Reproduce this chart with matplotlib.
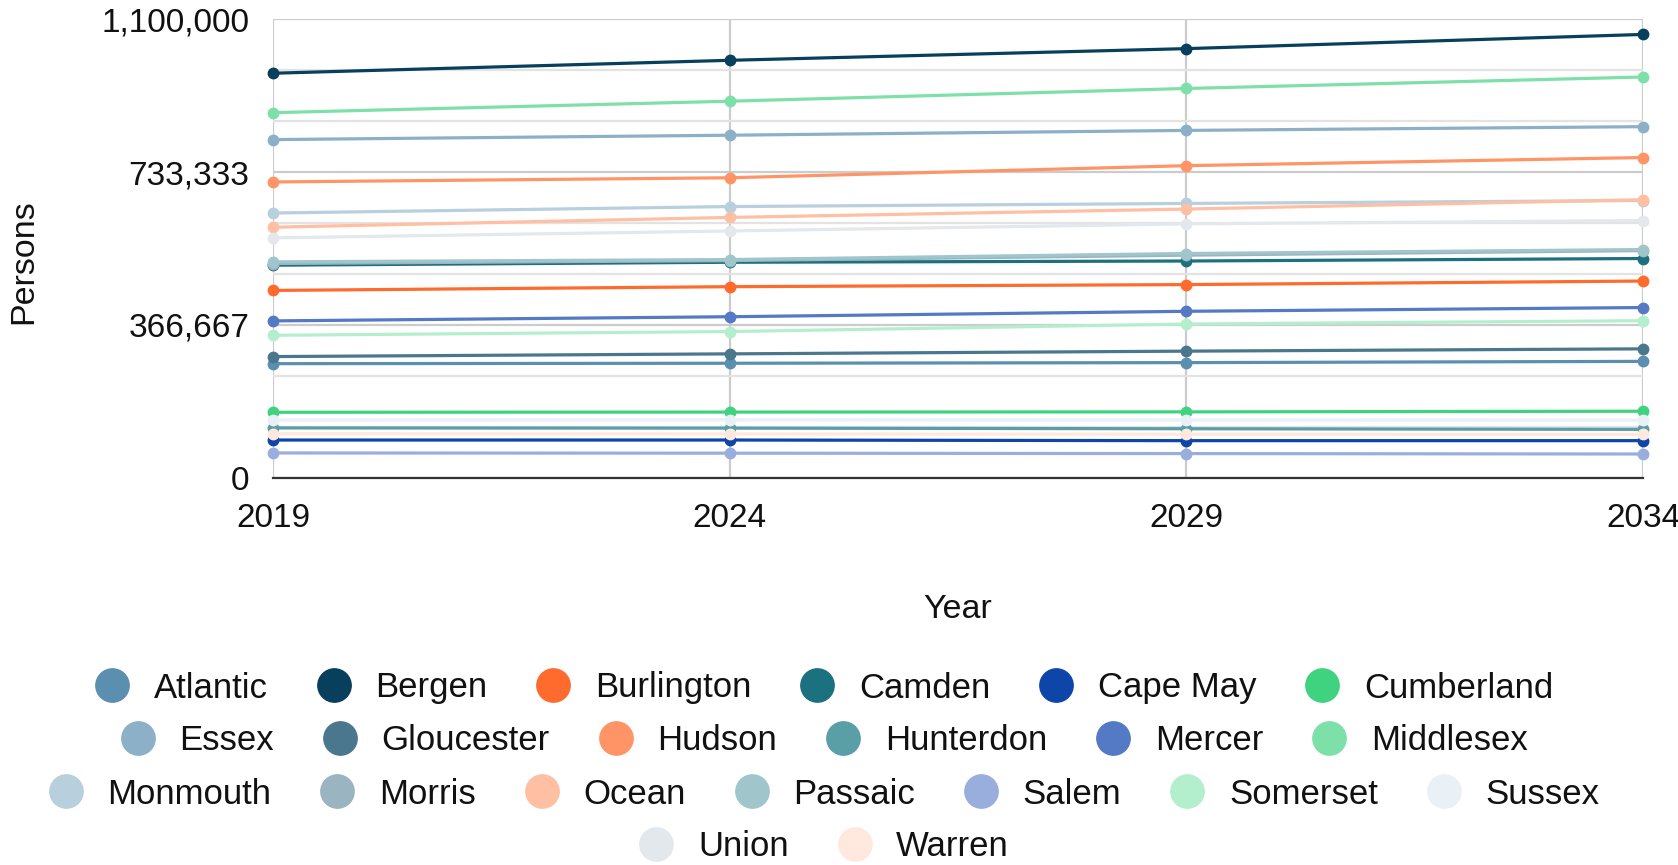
import matplotlib
matplotlib.use("Agg")
import matplotlib.pyplot as plt
from matplotlib.lines import Line2D

plt.rcParams["font.family"] = ["Liberation Sans", "DejaVu Sans"]

years = [2019, 2024, 2029, 2034]

# county populations
atlantic = [274000, 275000, 276500, 279500]
bergen = [970000, 1001000, 1029000, 1063000]
burlington = [449500, 458500, 463500, 472000]
camden = [510000, 517000, 520000, 526000]
cape_may = [91000, 91000, 89500, 89500]
cumberland = [157500, 158000, 158500, 160000]
essex = [811000, 821500, 833000, 842000]
gloucester = [291000, 297500, 304000, 309500]
hudson = [709500, 719500, 748500, 768000]
hunterdon = [120000, 119500, 118000, 116500]
mercer = [376500, 386500, 399500, 408500]
middlesex = [875500, 903000, 933500, 961000]
monmouth = [635000, 650500, 658000, 665000]
morris = [514000, 521000, 534000, 545000]
ocean = [601000, 624500, 644500, 667000]
passaic = [518000, 523500, 538000, 547500]
salem = [60000, 59500, 58500, 57500]
somerset = [342000, 351000, 369000, 377000]
sussex = [139000, 139500, 139000, 138500]
union = [575500, 592000, 609000, 617000]
warren = [106000, 105500, 105000, 104500]

names = ["Atlantic", "Bergen", "Burlington", "Camden", "Cape May", "Cumberland",
         "Essex", "Gloucester", "Hudson", "Hunterdon", "Mercer", "Middlesex",
         "Monmouth", "Morris", "Ocean", "Passaic", "Salem", "Somerset", "Sussex",
         "Union", "Warren"]
colors = ["#5a8fb0", "#073f5c", "#ff6b2c", "#1b717f", "#0d45a8", "#3fd37f",
          "#8cb0c8", "#4a778d", "#ff9566", "#5a9ea6", "#5479c5", "#7ee0a9",
          "#b8cfdd", "#9ab4c1", "#ffbfa3", "#a0c6cb", "#99aedd", "#b4efcd", "#e9f0f6",
          "#e3e8ec", "#ffe9de"]
values = [atlantic, bergen, burlington, camden, cape_may, cumberland,
          essex, gloucester, hudson, hunterdon, mercer, middlesex,
          monmouth, morris, ocean, passaic, salem, somerset, sussex,
          union, warren]
legend_rows = [6, 6, 7, 2]

ymax = 1100000
major = [0, 366667, 733333, 1100000]
major_labels = ["0", "366,667", "733,333", "1,100,000"]

W, H = 1678, 865
fig = plt.figure(figsize=(W / 100, H / 100), dpi=100)
ax = fig.add_axes([273 / W, 1 - 478 / H, (1643 - 273) / W, (478 - 19) / H])

for name, vals, c in zip(names, values, colors):
    ax.plot(years, vals, color=c, lw=2.3, marker="o", ms=7.5, label=name,
            clip_on=False, zorder=3)

ax.set_xlim(2019, 2034)
ax.set_ylim(0, ymax)
ax.set_xticks(years)
ax.set_xticklabels([str(y) for y in years])
ax.set_yticks(major)
ax.set_yticklabels(major_labels)
ax.set_yticks([ymax * i / 9 for i in range(1, 9) if i % 3], minor=True)
ax.grid(True, which="major", axis="both", color="#cccccc", lw=1.6, zorder=0)
ax.grid(True, which="minor", axis="y", color="#e3e3e3", lw=1.6, zorder=0)
ax.tick_params(which="both", length=0, labelsize=24, colors="#111111")
ax.tick_params(axis="y", pad=17)
ax.tick_params(axis="x", pad=18)
for s in ["top", "right", "left"]:
    ax.spines[s].set_visible(False)
ax.spines["bottom"].set_color("#333333")
ax.spines["bottom"].set_linewidth(1.6)

fig.text(24 / W, 1 - 262 / H, "Persons", rotation=90, fontsize=24.5,
         ha="center", va="center", color="#111111")
fig.text(958 / W, 1 - 610 / H, "Year", fontsize=24.5, ha="center", va="center",
         color="#111111")

handles = [Line2D([], [], ls="none", marker="o", ms=24, color=c) for c in colors]
row_y = [688, 741, 794, 847]
start = 0
for n, yy in zip(legend_rows, row_y):
    leg = fig.legend(handles[start:start + n], names[start:start + n],
                     loc="center", bbox_to_anchor=(824 / W, 1 - yy / H),
                     ncol=n, frameon=False, fontsize=25, handlelength=1.0,
                     handletextpad=0.7, columnspacing=1.4, borderpad=0,
                     borderaxespad=0)
    for t in leg.get_texts():
        t.set_color("#111111")
    start += n

fig.savefig("out.png", dpi=100)
